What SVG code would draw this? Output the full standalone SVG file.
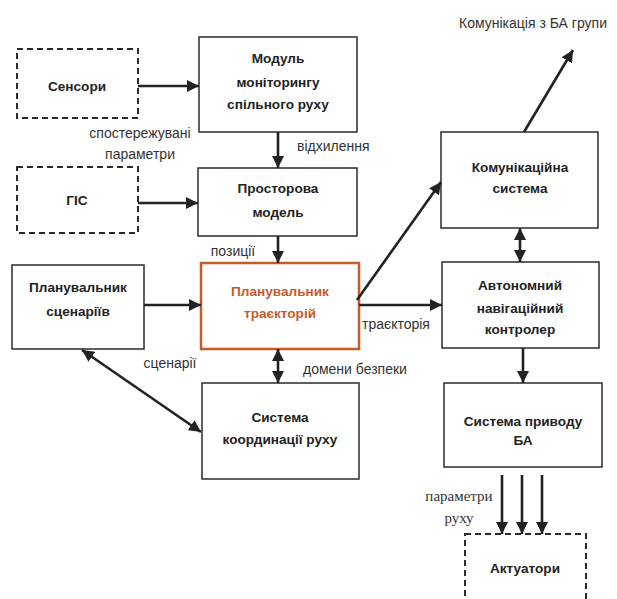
<svg xmlns="http://www.w3.org/2000/svg" width="617" height="599" viewBox="0 0 617 599">
<style>
.bg{fill:#fff}
.box{fill:#fff;stroke:#2b2b2b;stroke-width:1.5}
.dash{fill:#fff;stroke:#2b2b2b;stroke-width:2;stroke-dasharray:6,4}
.hl{fill:#fff;stroke:#C65A29;stroke-width:2.5}
.t{font-family:"Liberation Sans",Arial,sans-serif;font-size:13.6px;font-weight:bold;fill:#222;text-anchor:middle}
.to{font-family:"Liberation Sans",Arial,sans-serif;font-size:13.6px;font-weight:bold;fill:#C65A29;text-anchor:middle}
.l{font-family:"Liberation Sans",Arial,sans-serif;font-size:14px;fill:#333}
.s{font-family:"Liberation Serif","Times New Roman",serif;font-size:15px;fill:#333;text-anchor:middle}
.c line{stroke:#222;stroke-width:2.6;fill:none}
</style>
<defs>
<marker id="ah" markerUnits="userSpaceOnUse" markerWidth="12" markerHeight="12" viewBox="0 0 12 12" refX="12" refY="6" orient="auto-start-reverse">
<path d="M0,0 L12,6 L0,12 z" fill="#222"/>
</marker>
</defs>
<rect class="bg" x="0" y="0" width="617" height="599"/>

<g id="sensory"><rect class="dash" x="17" y="49" width="121" height="69"/><text class="t" x="77" y="91">Сенсори</text></g>
<g id="monitoring"><rect class="box" x="199" y="37" width="158" height="95"/><text class="t" x="278" y="63">Модуль</text><text class="t" x="278" y="87">моніторингу</text><text class="t" x="278" y="109">спільного руху</text></g>
<g id="gis"><rect class="dash" x="17" y="167" width="121" height="66"/><text class="t" x="77" y="205">ГІС</text></g>
<g id="spatial"><rect class="box" x="198" y="168" width="159" height="68"/><text class="t" x="278" y="193">Просторова</text><text class="t" x="278" y="217">модель</text></g>
<g id="scenario"><rect class="box" x="12" y="265" width="132" height="84"/><text class="t" x="78" y="292">Планувальник</text><text class="t" x="78" y="316">сценаріїв</text></g>
<g id="trajectory"><rect class="hl" x="201" y="263" width="158" height="86"/><text class="to" x="280" y="296">Планувальник</text><text class="to" x="280" y="318">траєкторій</text></g>
<g id="coordination"><rect class="box" x="202" y="383" width="157" height="96"/><text class="t" x="280" y="422">Система</text><text class="t" x="280" y="444">координації руху</text></g>
<g id="comm"><rect class="box" x="441" y="132" width="157" height="96"/><text class="t" x="520" y="172">Комунікаційна</text><text class="t" x="520" y="193">система</text></g>
<g id="navigator"><rect class="box" x="442" y="262" width="157" height="86"/><text class="t" x="520" y="290">Автономний</text><text class="t" x="520" y="313">навігаційний</text><text class="t" x="520" y="334">контролер</text></g>
<g id="drive"><rect class="box" x="444" y="383" width="158" height="84"/><text class="t" x="523" y="426">Система приводу</text><text class="t" x="523" y="445">БА</text></g>
<g id="actuators"><rect class="dash" x="465" y="534" width="121" height="75"/><text class="t" x="525" y="573">Актуатори</text></g>

<g id="connectors" class="c">
<line x1="138" y1="86" x2="199" y2="86" marker-end="url(#ah)"/>
<line x1="138" y1="203" x2="198" y2="203" marker-end="url(#ah)"/>
<line x1="278" y1="132" x2="278" y2="168" marker-end="url(#ah)"/>
<line x1="278" y1="236" x2="278" y2="263" marker-end="url(#ah)"/>
<line x1="144" y1="305" x2="201" y2="305" marker-end="url(#ah)"/>
<line x1="278" y1="349" x2="278" y2="383" marker-start="url(#ah)" marker-end="url(#ah)"/>
<line x1="82" y1="350" x2="201" y2="432" marker-start="url(#ah)" marker-end="url(#ah)"/>
<line x1="359" y1="305" x2="442" y2="305" marker-end="url(#ah)"/>
<line x1="357" y1="300" x2="441" y2="182" marker-end="url(#ah)"/>
<line x1="520" y1="228" x2="520" y2="262" marker-start="url(#ah)" marker-end="url(#ah)"/>
<line x1="524" y1="132" x2="573" y2="50" marker-end="url(#ah)"/>
<line x1="523" y1="348" x2="523" y2="383" marker-end="url(#ah)"/>
<line x1="502" y1="475" x2="502" y2="534" marker-end="url(#ah)"/>
<line x1="522" y1="475" x2="522" y2="534" marker-end="url(#ah)"/>
<line x1="542" y1="475" x2="542" y2="534" marker-end="url(#ah)"/>
</g>

<g id="labels">
<text class="l" x="140" y="138" text-anchor="middle">спостережувані</text>
<text class="l" x="140" y="159" text-anchor="middle">параметри</text>
<text class="l" x="297" y="151">відхилення</text>
<text class="l" x="233" y="256" text-anchor="middle">позиції</text>
<text class="l" x="170" y="368" text-anchor="middle">сценарії</text>
<text class="l" x="303" y="374">домени безпеки</text>
<text class="l" x="362" y="329">траєкторія</text>
<text class="l" x="533" y="28" text-anchor="middle">Комунікація з БА групи</text>
<text class="s" x="459" y="501">параметри</text>
<text class="s" x="459" y="523">руху</text>
</g>
</svg>
